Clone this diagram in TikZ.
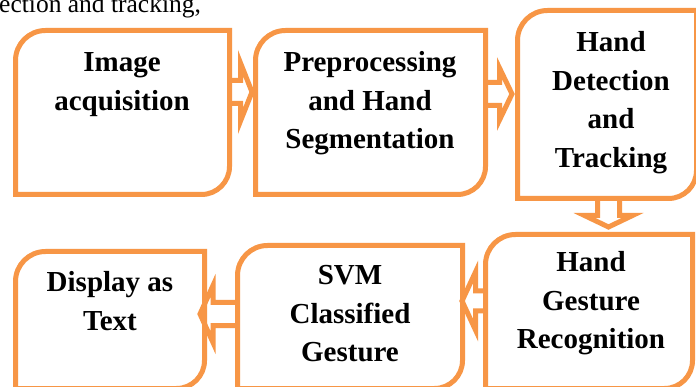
\documentclass[tikz,border=0pt]{standalone}
\usepackage{fontspec}
\setmainfont{Liberation Serif}
\definecolor{acc}{RGB}{247,150,70}
\tikzset{
  boxnode/.style={rectangle, draw=none, inner sep=0pt, outer sep=0pt},
  edge/.style={draw=acc, line width=5pt},
  arr/.style={draw=acc, line width=5pt, line join=miter},
  lbl/.style={anchor=base, inner sep=0pt, font=\fontsize{29}{38.5}\selectfont\bfseries}
}
\newcommand\boxoutline[1]{%
  \draw[edge] (#1.west) [rounded corners=30pt] -- (#1.north west) -- (#1.north)
    [sharp corners] -- (#1.north east) -- (#1.east)
    [rounded corners=28pt] -- (#1.south east) -- (#1.south)
    [sharp corners] -- (#1.south west) -- cycle;}
\newcommand\lbltext[1]{\parbox[t]{230pt}{\centering #1}}
\begin{document}
\begin{tikzpicture}[x=1pt,y=-1pt]
\useasboundingbox (0,0) rectangle (696,387);
\fill[white] (0,0) rectangle (696,387);
\clip (0,0) rectangle (696,387);

\node[anchor=base west, inner sep=0pt, font=\fontsize{25.5}{30}\selectfont] (cap) at (-1,13) {ection and tracking,};

% boxes
\node[boxnode, minimum width=214pt, minimum height=164pt] (b1) at (122.5,112.5) {};
\node[boxnode, minimum width=230pt, minimum height=164pt] (b2) at (370.5,112.5) {};
\node[boxnode, minimum width=179pt, minimum height=188pt] (b3) at (607,104.5) {};
\node[boxnode, minimum width=207pt, minimum height=154pt] (b4) at (589,311.5) {};
\node[boxnode, minimum width=225pt, minimum height=143pt] (b5) at (350,317) {};
\node[boxnode, minimum width=189pt, minimum height=137pt] (b6) at (110,320) {};
\boxoutline{b1}
\boxoutline{b2}
\boxoutline{b3}
\boxoutline{b4}
\boxoutline{b5}
\boxoutline{b6}

% texts
\node[lbl] (t1) at (122,72) {\lbltext{Image\\acquisition}};
\node[lbl] (t2) at (370,72) {\lbltext{Preprocessing\\and Hand\\Segmentation}};
\node[lbl] (t3) at (611,52) {\lbltext{Hand\\Detection\\and\\Tracking}};
\node[lbl] (t4) at (591,272) {\lbltext{Hand\\Gesture\\Recognition}};
\node[lbl] (t5) at (350,285) {\lbltext{SVM\\Classified\\Gesture}};
\node[lbl] (t6) at (110,292) {\lbltext{Display as\\Text}};

% block arrows
\draw[arr] (b1.east |- 0,92) ++(0,-11.5) -- ++(11,0) -- ++(0,-17.5) -- ++(11.5,29) -- ++(-11.5,29) -- ++(0,-17.5) -- ++(-11,0);
\draw[arr] (b2.east |- 0,94) ++(0,-11.5) -- ++(14,0) -- ++(0,-14.5) -- ++(12.5,26) -- ++(-12.5,26) -- ++(0,-14.5) -- ++(-14,0);
\draw[arr] (b3.south -| 608.5,0) ++(-11,0) -- ++(0,17) -- ++(-13,0) -- ++(24,11.5) -- ++(24,-11.5) -- ++(-13,0) -- ++(0,-17);
\draw[arr] (b4.west |- 0,301) ++(0,-10) -- ++(-10,0) -- ++(0,-19) -- ++(-13.5,29) -- ++(13.5,29) -- ++(0,-19) -- ++(10,0);
\draw[arr] (b5.west |- 0,314) ++(0,-11.5) -- ++(-24.5,0) -- ++(0,-17) -- ++(-13,28.5) -- ++(13,28.5) -- ++(0,-17) -- ++(24.5,0);
\end{tikzpicture}
\end{document}
